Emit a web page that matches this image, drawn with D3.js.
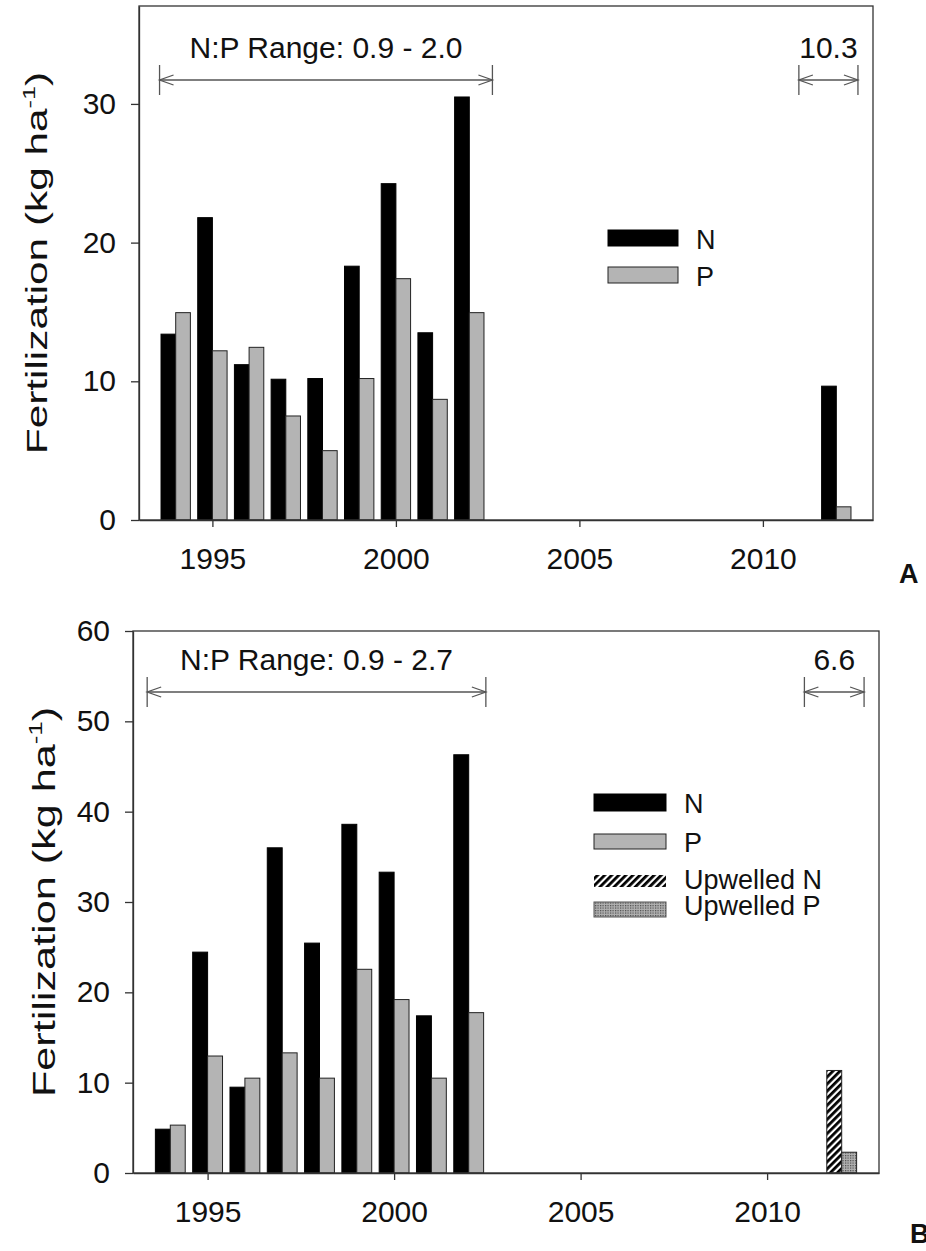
<!DOCTYPE html>
<html>
<head>
<meta charset="utf-8">
<script src="https://cdn.jsdelivr.net/npm/d3@7"></script>
<style>
  body { margin: 0; background: #fff; }
  svg { display: block; }
  text { font-family: "Liberation Sans", Arial, sans-serif; fill: #111; }
</style>
</head>
<body>
<svg id="chart" width="926" height="1251"></svg>
<script>
// ---- data ----
const years = [1994, 1995, 1996, 1997, 1998, 1999, 2000, 2001, 2002, 2012];

// panel A
const aN = [13.4, 21.8, 11.2, 10.15, 10.2, 18.3, 24.25, 13.5, 30.5, 9.65];
const aP = [14.95, 12.2, 12.45, 7.5, 5.0, 10.2, 17.4, 8.7, 14.95, 0.95];
const aYTicks = [0, 10, 20, 30];

// panel B (fertilizer years, then upwelled nutrients in 2012)
const bYears = [1994, 1995, 1996, 1997, 1998, 1999, 2000, 2001, 2002];
const bN = [4.85, 24.45, 9.5, 36.0, 25.45, 38.6, 33.3, 17.4, 46.3];
const bP = [5.3, 12.95, 10.5, 13.3, 10.5, 22.55, 19.2, 10.5, 17.75];
const upYears = [2012];
const upN = [11.35];
const upP = [2.3];
const bYTicks = [0, 10, 20, 30, 40, 50, 60];

const xTicks = [1995, 2000, 2005, 2010];

// N:P ratio annotations [from, to, label]
const aRanges = [[1993.56, 2002.63, "N:P Range: 0.9 - 2.0"], [2010.98, 2012.59, "10.3"]];
const bRanges = [[1993.38, 2002.46, "N:P Range: 0.9 - 2.7"], [2011.0, 2012.6, "6.6"]];

const svg = d3.select("#chart");
const defs = svg.append("defs");

const hatch = defs.append("pattern")
    .attr("id", "hatch")
    .attr("patternUnits", "userSpaceOnUse")
    .attr("width", 5).attr("height", 5)
    .attr("patternTransform", "rotate(45)");
hatch.append("rect").attr("width", 5).attr("height", 5).attr("fill", "#fff");
hatch.append("line")
    .attr("x1", 1.4).attr("y1", 0).attr("x2", 1.4).attr("y2", 5)
    .attr("stroke", "#000").attr("stroke-width", 2.8);

const dots = defs.append("pattern")
    .attr("id", "dots")
    .attr("patternUnits", "userSpaceOnUse")
    .attr("width", 2.5).attr("height", 2.5);
dots.append("rect").attr("width", 2.5).attr("height", 2.5).attr("fill", "#b0b0b0");
dots.append("rect").attr("width", 1.2).attr("height", 1.2).attr("fill", "#4a4a4a");

function arrowRange(g, x, y0, r) {
    const x1 = x(r[0]), x2 = x(r[1]);
    const col = "#555";
    g.append("line").attr("x1", x1).attr("x2", x2).attr("y1", y0).attr("y2", y0)
        .attr("stroke", col).attr("stroke-width", 1.3);
    [x1, x2].forEach((xx, i) => {
        const d = i === 0 ? 1 : -1;
        g.append("line").attr("x1", xx).attr("x2", xx).attr("y1", y0 - 15).attr("y2", y0 + 15)
            .attr("stroke", col).attr("stroke-width", 1.3);
        g.append("path")
            .attr("d", `M${xx + d * 14},${y0 - 5}L${xx},${y0}L${xx + d * 14},${y0 + 5}`)
            .attr("fill", "none").attr("stroke", col).attr("stroke-width", 1.3);
    });
    g.append("text")
        .attr("x", (x1 + x2) / 2).attr("y", y0 - 22)
        .attr("text-anchor", "middle")
        .attr("font-size", 30)
        .text(r[2]);
}

function drawPanel(cfg) {
    const x = d3.scaleLinear().domain([1993, 2013]).range([cfg.left, cfg.right]);
    const y = d3.scaleLinear().domain([0, cfg.yMax]).range([cfg.bottom, cfg.top]);
    const g = svg.append("g");

    // bars
    cfg.series.forEach(s => {
        g.selectAll(null)
            .data(s.values.map((v, i) => ({ year: s.years[i], v })))
            .join("rect")
            .attr("x", d => x(d.year + s.offset))
            .attr("width", x(1993.4) - x(1993))
            .attr("y", d => y(d.v))
            .attr("height", d => y(0) - y(d.v))
            .attr("fill", s.fill)
            .attr("stroke", s.stroke)
            .attr("stroke-width", 1);
    });

    // axes
    const ya = g.append("g")
        .attr("transform", `translate(${cfg.left},0)`)
        .call(d3.axisLeft(y).tickValues(cfg.yTicks).tickSize(8).tickPadding(15).tickSizeOuter(0));
    const xa = g.append("g")
        .attr("transform", `translate(0,${cfg.bottom})`)
        .call(d3.axisBottom(x).tickValues(xTicks).tickFormat(d3.format("d")).tickSize(7).tickPadding(21).tickSizeOuter(0));
    [ya, xa].forEach(a => {
        a.selectAll("text").attr("font-size", 30).attr("font-family", "Liberation Sans, Arial").attr("fill", "#111");
        a.selectAll("line, path").attr("stroke", "#333").attr("stroke-width", 1.3);
    });

    // frame
    g.append("rect")
        .attr("x", cfg.left).attr("y", cfg.top)
        .attr("width", cfg.right - cfg.left).attr("height", cfg.bottom - cfg.top)
        .attr("fill", "none").attr("stroke", "#333").attr("stroke-width", 1.3);

    // y label
    const yl = g.append("text")
        .attr("transform", `translate(${cfg.labelX},${(cfg.top + cfg.bottom) / 2}) rotate(-90) scale(${cfg.labelStretch},1)`)
        .attr("text-anchor", "middle")
        .attr("font-size", cfg.labelSize);
    yl.append("tspan").text("Fertilization (kg ha");
    yl.append("tspan").attr("font-size", cfg.labelSize * 0.6).attr("dy", -cfg.labelSize * 0.42).text("-1");
    yl.append("tspan").attr("dy", cfg.labelSize * 0.42).text(")");

    cfg.ranges.forEach(r => arrowRange(g, x, cfg.arrowY, r));

    // legend
    cfg.legend.forEach(l => {
        g.append("rect")
            .attr("x", cfg.legX).attr("y", l.y)
            .attr("width", cfg.legW).attr("height", l.h)
            .attr("fill", l.fill).attr("stroke", l.stroke).attr("stroke-width", 1);
        g.append("text")
            .attr("x", cfg.legX + cfg.legW + 18).attr("y", l.base)
            .attr("font-size", 27)
            .text(l.label);
    });

    svg.append("text")
        .attr("x", cfg.tagX).attr("y", cfg.tagY)
        .attr("font-family", "Liberation Serif, Times New Roman, serif")
        .attr("font-weight", "bold")
        .attr("font-size", 27)
        .text(cfg.tag);
}

drawPanel({
    left: 139, right: 873, top: 6, bottom: 520, yMax: 37.06,
    yTicks: aYTicks,
    series: [
        { years: years, values: aN, offset: -0.4, fill: "#000", stroke: "#000" },
        { years: years, values: aP, offset: 0, fill: "#b4b4b4", stroke: "#222" }
    ],
    labelX: 47, labelSize: 29, labelStretch: 1.46,
    ranges: aRanges, arrowY: 80,
    legX: 608, legW: 70,
    legend: [
        { label: "N", y: 230, h: 16, base: 249, fill: "#000", stroke: "#000" },
        { label: "P", y: 267, h: 16, base: 285.5, fill: "#b4b4b4", stroke: "#222" }
    ],
    tag: "A", tagX: 899, tagY: 583
});

drawPanel({
    left: 133, right: 879, top: 631, bottom: 1173, yMax: 60,
    yTicks: bYTicks,
    series: [
        { years: bYears, values: bN, offset: -0.4, fill: "#000", stroke: "#000" },
        { years: bYears, values: bP, offset: 0, fill: "#b4b4b4", stroke: "#222" },
        { years: upYears, values: upN, offset: -0.4, fill: "url(#hatch)", stroke: "#222" },
        { years: upYears, values: upP, offset: 0, fill: "url(#dots)", stroke: "#222" }
    ],
    labelX: 55, labelSize: 32, labelStretch: 1.35,
    ranges: bRanges, arrowY: 692,
    legX: 594, legW: 72,
    legend: [
        { label: "N", y: 794, h: 17, base: 812.7, fill: "#000", stroke: "#000" },
        { label: "P", y: 834, h: 15, base: 852.3, fill: "#b4b4b4", stroke: "#222" },
        { label: "Upwelled N", y: 875, h: 12, base: 889.3, fill: "url(#hatch)", stroke: "none" },
        { label: "Upwelled P", y: 902, h: 15, base: 915, fill: "url(#dots)", stroke: "#555" }
    ],
    tag: "B", tagX: 910, tagY: 1243
});
</script>
</body>
</html>
